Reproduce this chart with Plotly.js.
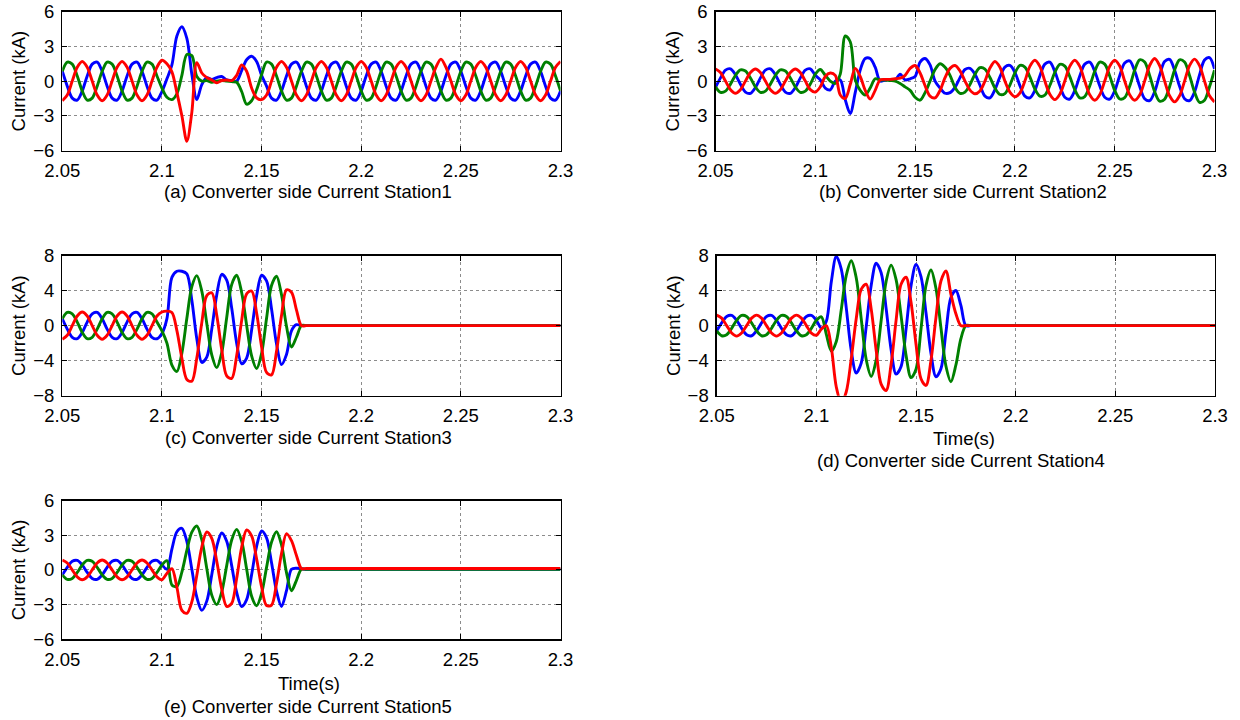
<!DOCTYPE html>
<html><head><meta charset="utf-8">
<script src="https://cdn.plot.ly/plotly-3.0.1.min.js"></script>
<style>html,body{margin:0;padding:0;background:#fff}#chart{width:1240px;height:720px}</style>
</head><body><div id="chart"></div>
<script>
// ---- time axis (s) ----
const time = [
2.05,2.0525,2.055,2.0575,2.06,2.0625,2.065,2.0675,2.07,2.0725,2.075,2.0775,2.08,2.0825,2.085,2.0875,2.09,2.0925,2.095,2.0975,
2.1,2.1025,2.105,2.1075,2.11,2.1125,2.115,2.1175,2.12,2.1225,2.125,2.1275,2.13,2.1325,2.135,2.1375,2.14,2.1425,2.145,2.1475,
2.15,2.1525,2.155,2.1575,2.16,2.1625,2.165,2.1675,2.17,2.1725,2.175,2.1775,2.18,2.1825,2.185,2.1875,2.19,2.1925,2.195,2.1975,
2.2,2.2025,2.205,2.2075,2.21,2.2125,2.215,2.2175,2.22,2.2225,2.225,2.2275,2.23,2.2325,2.235,2.2375,2.24,2.2425,2.245,2.2475,
2.25,2.2525,2.255,2.2575,2.26,2.2625,2.265,2.2675,2.27,2.2725,2.275,2.2775,2.28,2.2825,2.285,2.2875,2.29,2.2925,2.295,2.2975,
2.3];

// ---- (a) Station1 ----
const st1Blue = [
.85,-.44,-1.47,-1.64,-.85,.44,1.47,1.64,.85,-.44,-1.47,-1.64,-.85,.44,1.47,1.64,.85,-.44,-1.47,-1.64,
-0.9,0.2,1.4,3.9,4.7,3.7,0.6,-1.6,-0.3,0.3,0.15,0.3,0.4,0.1,0.05,0,0.9,1.85,2.15,1.7,
0.5,-.44,-1.47,-1.64,-.85,.44,1.47,1.64,.85,-.44,-1.47,-1.64,-.85,.44,1.47,1.64,.85,-.44,-1.47,-1.64,
-.85,.44,1.47,1.64,.85,-.44,-1.47,-1.64,-.85,.44,1.47,1.64,.85,-.44,-1.47,-1.64,-.85,.44,1.47,1.64,
.85,-.44,-1.47,-1.64,-.85,.44,1.47,1.64,.85,-.44,-1.47,-1.64,-.85,.44,1.47,1.64,.85,-.44,-1.47,-1.64,
-.85];
const st1Green = [
.85,1.64,1.47,.44,-.85,-1.64,-1.47,-.44,.85,1.64,1.47,.44,-.85,-1.64,-1.47,-.44,.85,1.64,1.47,.44,
-0.6,-1.4,-1.6,-1.1,0.5,2.3,2.2,0.4,0,0.05,-0.1,0,0.05,0,-0.05,-0.1,-0.9,-2.0,-1.7,-0.75,
0.55,1.64,1.47,.44,-.85,-1.64,-1.47,-.44,.85,1.64,1.47,.44,-.85,-1.64,-1.47,-.44,.85,1.64,1.47,.44,
-.85,-1.64,-1.47,-.44,.85,1.64,1.47,.44,-.85,-1.64,-1.47,-.44,.85,1.64,1.47,.44,-.85,-1.64,-1.47,-.44,
.85,1.64,1.47,.44,-.85,-1.64,-1.47,-.44,.85,1.64,1.47,.44,-.85,-1.64,-1.47,-.44,.85,1.64,1.47,.44,
-.85];
const st1Red = [
-1.7,-1.2,0,1.2,1.7,1.2,0,-1.2,-1.7,-1.2,0,1.2,1.7,1.2,0,-1.2,-1.7,-1.2,0,1.2,
1.8,1.5,0.8,-1.0,-3.0,-5.2,-2.7,1.6,0.7,0.3,0.1,-0.15,0.05,0.1,0.05,0.5,1.4,0.85,-0.6,-1.45,
-1.6,-1.2,0,1.2,1.7,1.2,0,-1.2,-1.7,-1.2,0,1.2,1.7,1.2,0,-1.2,-1.7,-1.2,0,1.2,
1.7,1.2,0,-1.2,-1.7,-1.2,0,1.2,1.7,1.2,0,-1.2,-1.7,-1.2,0,1.2,1.9,1.2,0,-1.2,
-1.7,-1.2,0,1.2,1.7,1.2,0,-1.2,-1.7,-1.2,0,1.2,1.7,1.2,0,-1.2,-1.7,-1.2,0,1.2,
1.7];

// ---- (b) Station2 ----
const st2Blue = [
-.55,.28,.95,1.06,.55,-.28,-.95,-1.06,-.55,.28,.95,1.06,.55,-.28,-.95,-1.06,-.55,.28,.95,1.06,
0.5,0.1,-0.6,-0.75,0,0.1,-1.6,-2.8,-1.0,0.95,1.95,1.95,1.2,0,0.1,0.1,0.1,0.6,0.1,0.2,
0.4,1.65,1.95,1.4,0,-0.6,-1.05,-1.0,-.55,.3,1.0,1.1,.6,-.36,-1.3,-1.45,-.73,.36,1.21,1.35,
.75,-.39,-1.3,-1.45,-.8,.44,1.47,1.64,.83,-.41,-1.39,-1.55,-.83,.44,1.47,1.64,.85,-.41,-1.39,-1.55,
-.85,.47,1.56,1.74,.88,-.45,-1.52,-1.69,-.93,.5,1.69,1.88,.95,-.45,-1.52,-1.69,-.95,.54,1.82,2.03,
1.05];
const st2Green = [
-.5,-.97,-.87,-.26,.5,.97,.87,.26,-.5,-.97,-.87,-.26,.5,.97,.87,.26,-.5,-.97,-.87,-.26,
0.6,1.0,0.5,0,-0.2,0.6,3.9,3.4,0.1,-0.8,-1.2,-0.6,0.2,0.1,0.1,0.05,0,-0.2,-0.5,-0.8,
-1.4,-1.65,-1.0,0,1.0,1.5,1.2,0.5,-.55,-1.06,-.95,-.3,.6,1.16,1.04,.31,-.6,-1.16,-1.08,-.34,
.7,1.35,1.21,.36,-.68,-1.3,-1.21,-.38,.75,1.45,1.3,.39,-.75,-1.45,-1.34,-.41,.85,1.64,1.47,.44,
-.8,-1.55,-1.43,-.45,.93,1.84,1.65,.49,-.9,-1.74,-1.56,-.48,.95,1.84,1.65,.49,-.95,-1.84,-1.65,-.49,
.95];
const st2Red = [
1.05,.74,0,-.74,-1.05,-.74,0,.74,1.05,.74,0,-.74,-1.05,-.74,0,.74,1.05,.74,0,-.74,
-0.95,-0.5,0.4,0.7,0.5,-1.2,-1.5,-0.3,1.1,0.4,-0.8,-1.55,-0.8,0.1,0.15,0.15,0.2,0.25,0.5,1.1,
1.35,0.7,-0.4,-1.3,-1.45,-0.8,0.3,1.1,1.35,.88,0,-.78,-1.1,-.85,0,1.13,1.7,1.2,0,-.95,
-1.35,-1.03,0,1.27,1.8,1.27,0,-1.13,-1.6,-1.13,0,1.27,1.8,1.27,0,-1.17,-1.65,-1.17,0,1.27,
1.8,1.3,0,-1.17,-1.65,-1.2,0,1.35,1.95,1.35,0,-1.27,-1.8,-1.27,0,1.34,1.9,1.34,0,-1.27,
-1.8];

// ---- (c) Station3 ----
const st3Blue = [
.78,-.4,-1.34,-1.5,-.78,.4,1.34,1.5,.78,-.4,-1.34,-1.5,-.78,.4,1.34,1.5,.78,-.4,-1.34,-1.5,
-0.9,0.8,5.5,6.2,6.2,5.9,2.9,-1.5,-4.2,-3.6,-0.4,3.5,5.85,5.2,2.0,-2.0,-4.35,-3.7,-0.5,3.4,
5.75,5.1,1.9,-2.1,-4.45,-3.3,-0.6,0.1,0,0,0,0,0,0,0,0,0,0,0,0,
0,0,0,0,0,0,0,0,0,0,0,0,0,0,0,0,0,0,0,0,
0,0,0,0,0,0,0,0,0,0,0,0,0,0,0,0,0,0,0,0,
0];
const st3Green = [
.78,1.5,1.34,.4,-.78,-1.5,-1.34,-.4,.78,1.5,1.34,.4,-.78,-1.5,-1.34,-.4,.78,1.5,1.34,.4,
-0.6,-2.0,-4.5,-5.23,-3.14,0.83,4.45,5.7,3.94,0.25,-3.33,-4.8,-3.09,0.93,4.68,5.74,3.78,0.05,-3.46,-4.9,
-3.19,0.83,4.58,5.65,3.52,-0.08,-2.45,-1.3,0,0,0,0,0,0,0,0,0,0,0,0,
0,0,0,0,0,0,0,0,0,0,0,0,0,0,0,0,0,0,0,0,
0,0,0,0,0,0,0,0,0,0,0,0,0,0,0,0,0,0,0,0,
0];
const st3Red = [
-1.55,-1.1,0,1.1,1.55,1.1,0,-1.1,-1.55,-1.1,0,1.1,1.55,1.1,0,-1.1,-1.55,-1.1,0,1.1,
1.55,1.65,1.5,-0.57,-3.73,-6.15,-6.34,-3.71,0.34,3.42,3.75,1.19,-2.74,-5.74,-6.04,-3.43,0.57,3.63,3.95,1.44,
-2.41,-5.35,-5.63,-2.93,1.14,4.08,3.8,1.8,0,0,0,0,0,0,0,0,0,0,0,0,
0,0,0,0,0,0,0,0,0,0,0,0,0,0,0,0,0,0,0,0,
0,0,0,0,0,0,0,0,0,0,0,0,0,0,0,0,0,0,0,0,
0];

// ---- (d) Station4 ----
const st4Blue = [
-.6,.31,1.04,1.16,.6,-.31,-1.04,-1.16,-.6,.31,1.04,1.16,.6,-.31,-1.04,-1.16,-.6,.31,1.04,1.16,
0.6,-0.3,0.5,5.0,7.9,6.45,2.03,-2.84,-5.42,-4.29,-0.14,4.58,7.12,6.03,1.97,-2.75,-5.53,-4.66,-0.4,4.55,
6.97,5.58,1.47,-3.16,-5.84,-4.93,-0.76,3.2,4.0,2.3,0,0,0,0,0,0,0,0,0,0,
0,0,0,0,0,0,0,0,0,0,0,0,0,0,0,0,0,0,0,0,
0,0,0,0,0,0,0,0,0,0,0,0,0,0,0,0,0,0,0,0,
0];
const st4Green = [
-.6,-1.16,-1.04,-.31,.6,1.16,1.04,.31,-.6,-1.16,-1.04,-.31,.6,1.16,1.04,.31,-.6,-1.16,-1.04,-.31,
0.6,1.0,-1.0,-2.9,-1.81,1.82,5.73,7.4,5.47,0.8,-3.87,-5.8,-3.94,0.55,5.04,6.9,5.24,1.11,-3.38,-5.94,
-4.97,-0.39,4.57,6.35,4.26,-0.24,-4.61,-6.4,-4.5,-1.5,0,0,0,0,0,0,0,0,0,0,
0,0,0,0,0,0,0,0,0,0,0,0,0,0,0,0,0,0,0,0,
0,0,0,0,0,0,0,0,0,0,0,0,0,0,0,0,0,0,0,0,
0];
const st4Red = [
1.2,.85,0,-.85,-1.2,-.85,0,.85,1.2,.85,0,-.85,-1.2,-.85,0,.85,1.2,.85,0,-.85,
-1.1,-0.4,0,-2.5,-7.0,-8.8,-7.55,-3.79,0.78,4.13,4.73,1.91,-2.81,-6.68,-7.41,-4.42,0.6,4.72,5.52,2.66,
-2.13,-6.07,-6.83,-3.97,0.91,5.09,6.25,3.6,1.35,0,0,0,0,0,0,0,0,0,0,0,
0,0,0,0,0,0,0,0,0,0,0,0,0,0,0,0,0,0,0,0,
0,0,0,0,0,0,0,0,0,0,0,0,0,0,0,0,0,0,0,0,
0];

// ---- (e) Station5 ----
const st5Blue = [
-.43,.22,.74,.82,.43,-.22,-.74,-.82,-.43,.22,.74,.82,.43,-.22,-.74,-.82,-.43,.22,.74,.82,
0.43,0.05,1.8,3.3,3.6,2.46,0.05,-2.36,-3.5,-2.7,-0.41,2.02,3.19,2.47,0.37,-1.94,-3.16,-2.57,-0.41,2.04,
3.36,2.77,0.61,-1.84,-3.16,-1.8,0.05,0.15,0.1,.05,.05,.05,.05,.05,.05,.05,.05,.05,.05,.05,
.05,.05,.05,.05,.05,.05,.05,.05,.05,.05,.05,.05,.05,.05,.05,.05,.05,.05,.05,.05,
.05,.05,.05,.05,.05,.05,.05,.05,.05,.05,.05,.05,.05,.05,.05,.05,.05,.05,.05,.05,
.05];
const st5Green = [
-.43,-.82,-.74,-.22,.43,.82,.74,.22,-.43,-.82,-.74,-.22,.43,.82,.74,.22,-.43,-.82,-.74,-.22,
0.43,0.8,-1.3,-1.43,-0.19,1.68,3.26,3.8,2.61,0.13,-2.18,-3.0,-1.91,0.37,2.59,3.5,2.48,0.07,-2.27,-3.1,
-2.03,0.22,2.4,3.3,2.17,-0.23,-1.8,-0.9,0.05,.05,.05,.05,.05,.05,.05,.05,.05,.05,.05,.05,
.05,.05,.05,.05,.05,.05,.05,.05,.05,.05,.05,.05,.05,.05,.05,.05,.05,.05,.05,.05,
.05,.05,.05,.05,.05,.05,.05,.05,.05,.05,.05,.05,.05,.05,.05,.05,.05,.05,.05,.05,
.05];
const st5Red = [
.85,.6,0,-.6,-.85,-.6,0,.6,.85,.6,0,-.6,-.85,-.6,0,.6,.85,.6,0,-.6,
-0.85,-0.3,0.1,-1.5,-3.5,-3.75,-2.77,-0.46,1.98,3.28,2.73,0.74,-1.65,-3.15,-2.89,-0.73,1.96,3.45,2.94,0.96,
-1.46,-3.08,-3.04,-1.17,1.42,3.14,2.53,1.25,0.12,.12,.12,.12,.12,.12,.12,.12,.12,.12,.12,.12,
.12,.12,.12,.12,.12,.12,.12,.12,.12,.12,.12,.12,.12,.12,.12,.12,.12,.12,.12,.12,
.12,.12,.12,.12,.12,.12,.12,.12,.12,.12,.12,.12,.12,.12,.12,.12,.12,.12,.12,.12,
.12];

// ---- ticks and labels ----
const xTickVals = [2.05, 2.1, 2.15, 2.2, 2.25, 2.3];
const xTickText = ['2.05', '2.1', '2.15', '2.2', '2.25', '2.3'];
const yTicks6 = [-6, -3, 0, 3, 6];
const yTicks8 = [-8, -4, 0, 4, 8];
const captions = [
  '(a) Converter side Current Station1',
  '(b) Converter side Current Station2',
  '(c) Converter side Current Station3',
  '(d) Converter side Current Station4',
  '(e) Converter side Current Station5'
];
const yTitle = 'Current (kA)';
const xTitle = 'Time(s)';

// ---- layout geometry (pixels in a 1240x720 page) ----
const W = 1240, H = 720;
const panels = [
  {series:[st1Blue, st1Green, st1Red], yt:yTicks6, x0:62.3, x1:560.5, y0:11.7, y1:150.5, cap:[307.5,192]},
  {series:[st2Blue, st2Green, st2Red], yt:yTicks6, x0:715.5, x1:1214.5, y0:11.7, y1:150.5, cap:[962.5,192]},
  {series:[st3Blue, st3Green, st3Red], yt:yTicks8, x0:62.3, x1:560.5, y0:255.5, y1:395.7, cap:[308,438]},
  {series:[st4Blue, st4Green, st4Red], yt:yTicks8, x0:716.7, x1:1215, y0:255.5, y1:395.7, cap:[961,461], xt:[963.7,438.5]},
  {series:[st5Blue, st5Green, st5Red], yt:yTicks6, x0:62.3, x1:560.5, y0:500.5, y1:639.3, cap:[308,706], xt:[309,683]}
];
const colors = ['#0000ff', '#008000', '#ff0000'];
const FONT = 'Liberation Sans, Arial, sans-serif';
const FS = 18.5;

const data = [];
const layout = {
  width: W, height: H,
  margin: {l:0, r:0, t:0, b:0},
  paper_bgcolor: '#ffffff', plot_bgcolor: '#ffffff',
  showlegend: false,
  font: {family: FONT, size: FS, color: '#000'},
  annotations: []
};

panels.forEach((p, i) => {
  const n = i + 1;
  const xa = 'x' + (n === 1 ? '' : n), ya = 'y' + (n === 1 ? '' : n);
  p.series.forEach((s, j) => {
    data.push({
      x: time, y: s, xaxis: xa, yaxis: ya, type: 'scatter', mode: 'lines',
      line: {color: colors[j], width: 2.9, shape: 'spline', smoothing: 0.9},
      hoverinfo: 'skip'
    });
  });
  const common = {
    ticks: 'inside', ticklen: 5, tickwidth: 1, tickcolor: '#000',
    showline: true, linecolor: '#000', linewidth: 1.3, mirror: 'ticks',
    showgrid: true, gridcolor: '#8c8c8c', griddash: 'dot', gridwidth: 1,
    zeroline: false, fixedrange: true,
    tickfont: {family: FONT, size: FS, color: '#000'}
  };
  layout['xaxis' + (n === 1 ? '' : n)] = Object.assign({}, common, {
    domain: [p.x0 / W, p.x1 / W], anchor: ya, range: [2.05, 2.3],
    tickmode: 'array', tickvals: xTickVals, ticktext: xTickText, ticklabelstandoff: 3
  });
  layout['yaxis' + (n === 1 ? '' : n)] = Object.assign({}, common, {
    domain: [1 - p.y1 / H, 1 - p.y0 / H], anchor: xa,
    range: [p.yt[0], p.yt[p.yt.length - 1]],
    tickmode: 'array', tickvals: p.yt, ticklabelstandoff: 3,
    title: {text: yTitle, font: {family: FONT, size: FS, color: '#000'}, standoff: 2}
  });
  layout.annotations.push({
    text: captions[i], xref: 'paper', yref: 'paper',
    x: p.cap[0] / W, y: 1 - p.cap[1] / H, xanchor: 'center', yanchor: 'middle',
    showarrow: false, font: {family: FONT, size: FS, color: '#000'}
  });
  if (p.xt) {
    layout.annotations.push({
      text: xTitle, xref: 'paper', yref: 'paper',
      x: p.xt[0] / W, y: 1 - p.xt[1] / H, xanchor: 'center', yanchor: 'middle',
      showarrow: false, font: {family: FONT, size: FS, color: '#000'}
    });
  }
});

Plotly.newPlot('chart', data, layout, {displayModeBar: false, staticPlot: true});
</script>
</body></html>
